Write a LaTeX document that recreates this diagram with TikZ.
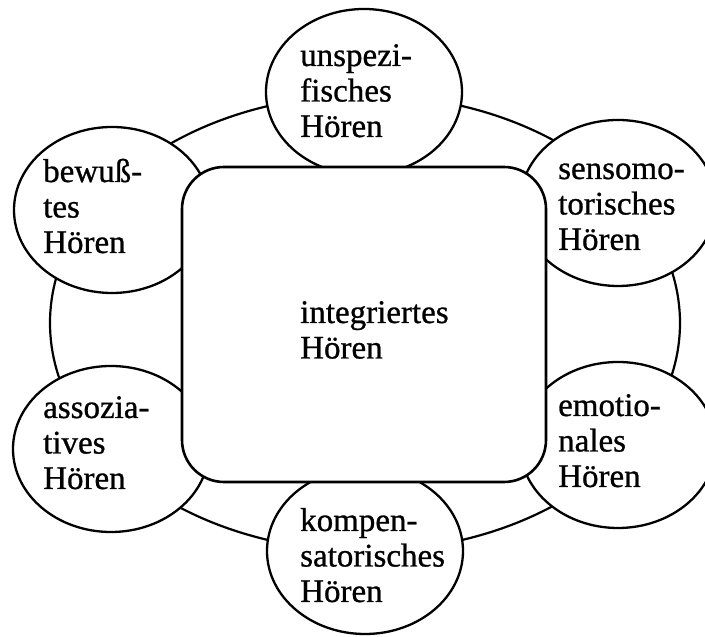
\documentclass[tikz,border=0pt]{standalone}
\usepackage{fontspec}
\setmainfont{Liberation Serif}[FakeBold=0.8]
\usetikzlibrary{shapes.geometric}
\begin{document}
\begin{tikzpicture}[x=1pt,y=1pt,
  ringline/.style={ellipse, draw, line width=2.2pt, inner sep=0pt, minimum width=630pt, minimum height=456pt},
  hoerkreis/.style={ellipse, draw, fill=white, line width=2.3pt, minimum width=196pt, minimum height=166pt, inner sep=0pt},
  mitte/.style={draw, fill=white, line width=2.6pt, rounded corners=42pt, minimum width=364pt, minimum height=315pt, inner sep=0pt},
  txt/.style={anchor=base west, align=left, inner sep=0pt, font=\fontsize{33}{35.5}\selectfont}
]
\useasboundingbox (0,0) rectangle (705,637);
\clip (0,0) rectangle (705,637);
\node[ringline] (ring) at (365,314) {};
\node[hoerkreis] (top) at (364,545) {};
\node[hoerkreis] (ul) at (112,427) {};
\node[hoerkreis] (ur) at (618,434) {};
\node[hoerkreis] (ll) at (111,188) {};
\node[hoerkreis] (lr) at (618,192) {};
\node[hoerkreis] (bot) at (365,86) {};
\node[mitte] (center) at (364,312.5) {};
\node[txt] (ttop) at (300,500) {unspezi-\\fisches\\Hören};
\node[txt] (tul) at (43,384) {bewuß-\\tes\\Hören};
\node[txt] (tur) at (558,387) {sensomo-\\torisches\\Hören};
\node[txt] (tll) at (43,148) {assozia-\\tives\\Hören};
\node[txt] (tlr) at (558,150) {emotio-\\nales\\Hören};
\node[txt] (tbot) at (300,35) {kompen-\\satorisches\\Hören};
\node[txt] (tcenter) at (300,278.5) {integriertes\\Hören};
\end{tikzpicture}
\end{document}
